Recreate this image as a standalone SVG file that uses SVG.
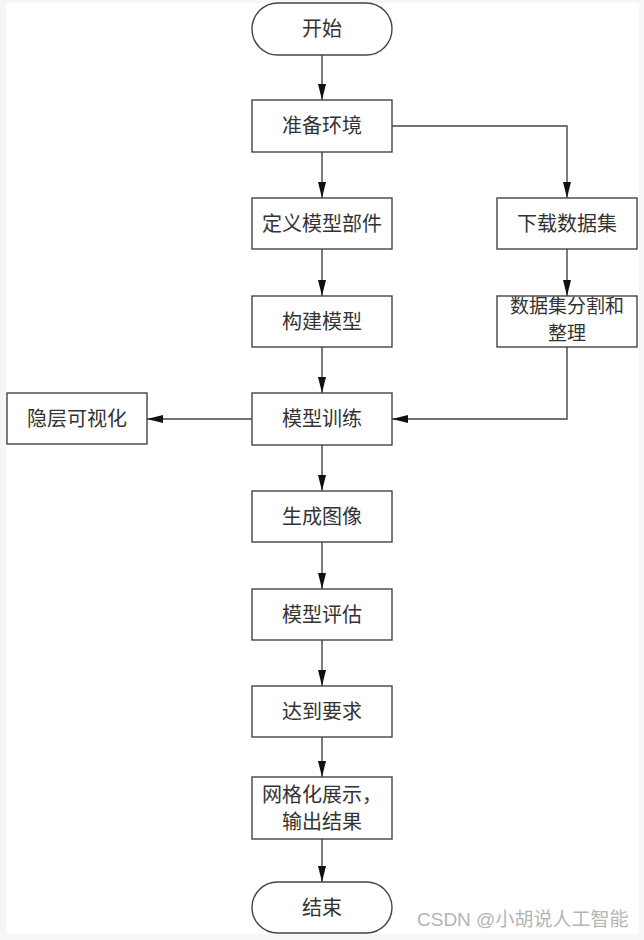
<svg xmlns="http://www.w3.org/2000/svg" width="644" height="940" viewBox="0 0 644 940">
<defs>
<marker id="ah" markerWidth="16" markerHeight="8" refX="16" refY="4" orient="auto" markerUnits="userSpaceOnUse">
<path d="M0,0 L16,4 L0,8 Z" fill="#111"/>
</marker>
<style>
.box{fill:#fff;stroke:#444;stroke-width:1.4}
.t{font-family:"Noto Sans CJK SC","Liberation Sans",sans-serif;font-size:20px;fill:#333;text-anchor:middle}
.s{font-size:19px}
.c{fill:none;stroke:#444;stroke-width:1.4;marker-end:url(#ah)}
.wm{font-family:"Liberation Sans","Noto Sans CJK SC",sans-serif;font-size:19px;fill:#b5b5b5}
</style>
</defs>
<rect x="0" y="0" width="644" height="940" fill="#f5f6f6"/>
<rect x="6" y="3" width="633" height="931" fill="#fff"/>
<g id="connectors">
<path class="c" d="M322,55 V100"/>
<path class="c" d="M392,126 H567 V198"/>
<path class="c" d="M322,152 V198"/>
<path class="c" d="M322,249 V296"/>
<path class="c" d="M567,249 V296"/>
<path class="c" d="M322,347 V393"/>
<path class="c" d="M567,347 V419 H392"/>
<path class="c" d="M252,419 H147"/>
<path class="c" d="M322,445 V491"/>
<path class="c" d="M322,542 V589"/>
<path class="c" d="M322,640 V686"/>
<path class="c" d="M322,737 V777"/>
<path class="c" d="M322,839 V882"/>
</g>
<g id="start"><rect class="box" x="252" y="3" width="140" height="52" rx="26"/><text class="t" x="322" y="36">开始</text></g>
<g id="prep"><rect class="box" x="252" y="100" width="140" height="52"/><text class="t" x="322" y="133">准备环境</text></g>
<g id="define"><rect class="box" x="252" y="198" width="140" height="51"/><text class="t" x="322" y="231">定义模型部件</text></g>
<g id="build"><rect class="box" x="252" y="296" width="140" height="51"/><text class="t" x="322" y="329">构建模型</text></g>
<g id="download"><rect class="box" x="497" y="198" width="140" height="51"/><text class="t" x="567" y="231">下载数据集</text></g>
<g id="split"><rect class="box" x="497" y="296" width="140" height="51"/><text class="t s" x="567" y="313">数据集分割和</text><text class="t s" x="567" y="340">整理</text></g>
<g id="train"><rect class="box" x="252" y="393" width="140" height="52"/><text class="t" x="322" y="426">模型训练</text></g>
<g id="hidden"><rect class="box" x="7" y="393" width="140" height="51"/><text class="t" x="77" y="426">隐层可视化</text></g>
<g id="gen"><rect class="box" x="252" y="491" width="140" height="51"/><text class="t" x="322" y="524">生成图像</text></g>
<g id="eval"><rect class="box" x="252" y="589" width="140" height="51"/><text class="t" x="322" y="622">模型评估</text></g>
<g id="reach"><rect class="box" x="252" y="686" width="140" height="51"/><text class="t" x="322" y="719">达到要求</text></g>
<g id="show"><rect class="box" x="252" y="777" width="140" height="62"/><text class="t" x="322" y="802">网格化展示，</text><text class="t" x="322" y="829">输出结果</text></g>
<g id="end"><rect class="box" x="252" y="882" width="140" height="51" rx="25.5"/><text class="t" x="322" y="915">结束</text></g>
<text class="wm" x="417" y="926">CSDN @小胡说人工智能</text>
</svg>
